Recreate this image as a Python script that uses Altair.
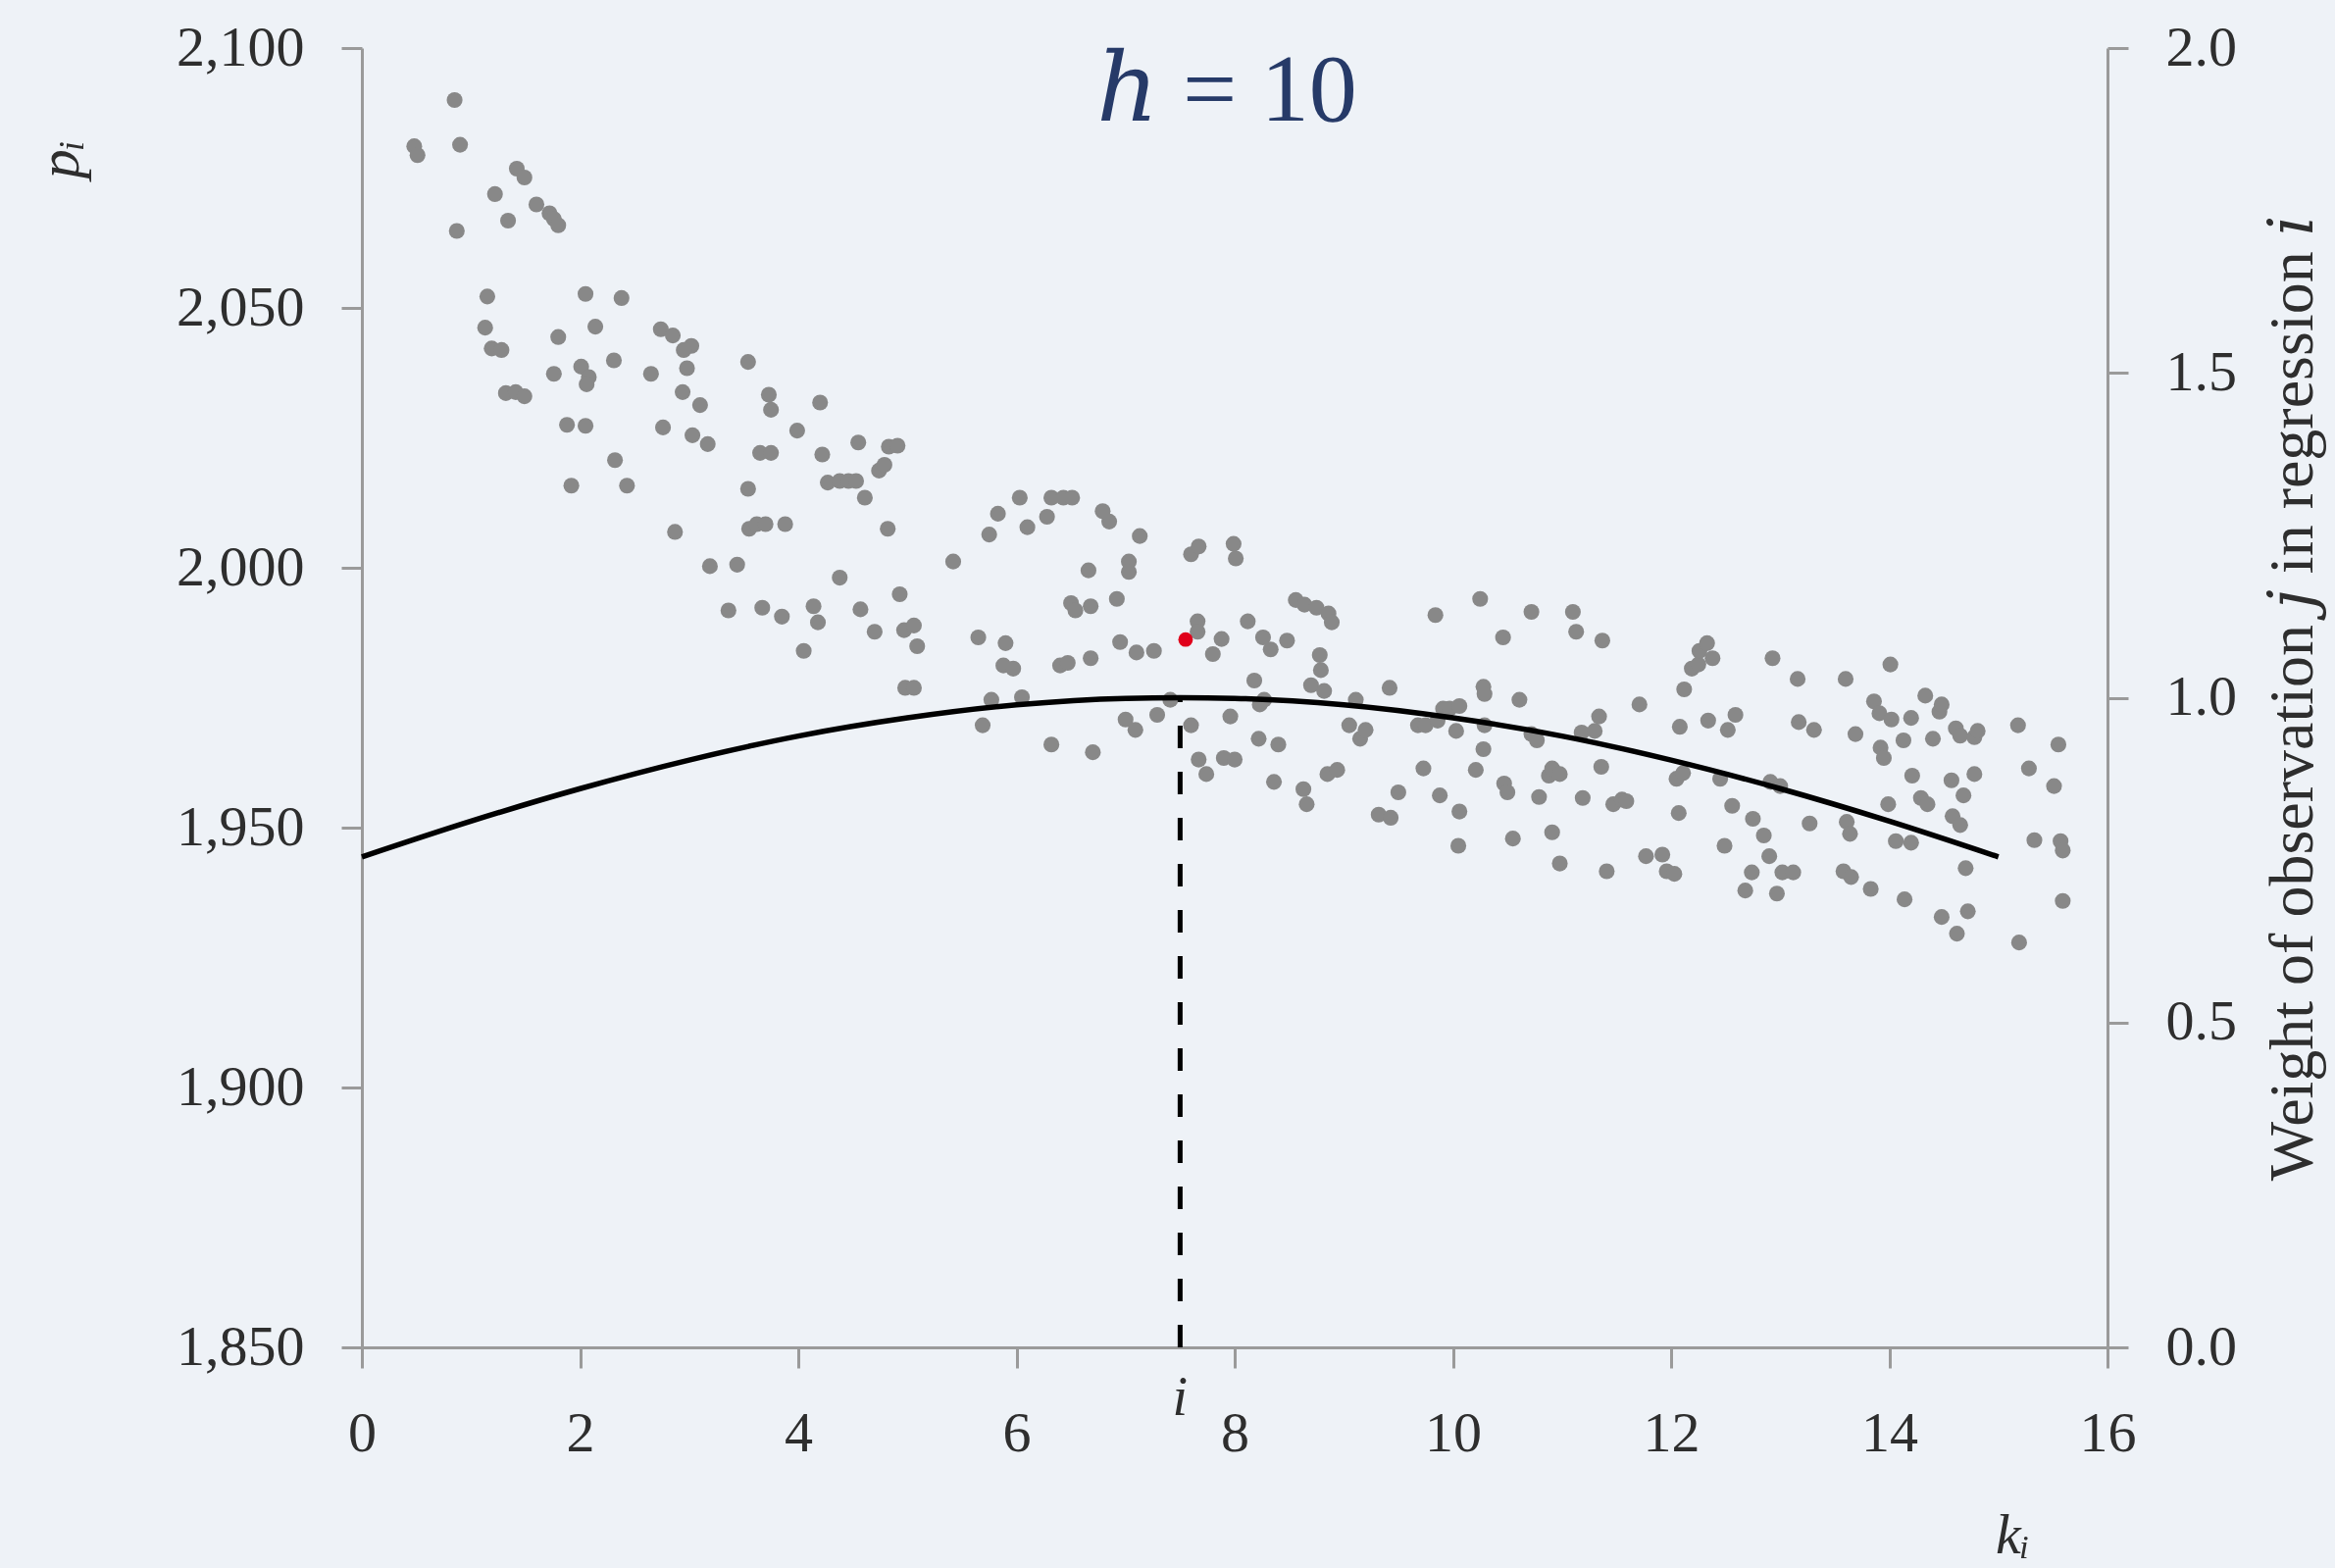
import altair as alt
import pandas as pd

# Observations (k_j, p_j)
K = [0.48, 0.51, 0.85, 0.90, 0.87, 1.22, 1.34, 1.42, 1.49, 1.60, 1.72, 1.76, 1.80,
     1.15, 1.13, 1.19, 1.28, 1.32, 1.41, 1.49, 1.80, 1.76, 1.88, 1.92, 2.05, 2.14,
     2.01, 2.08, 2.06, 2.05, 2.31, 2.32, 2.38, 2.43, 2.65, 2.74, 2.85, 2.76, 2.87,
     3.02, 2.95, 2.98, 2.94, 3.10, 3.03, 3.17, 3.19, 3.36, 3.44, 3.54, 3.54, 3.55,
     3.62, 3.70, 3.73, 3.65, 3.75, 3.67, 3.75, 3.85, 3.88, 3.99, 4.05, 4.14, 4.18,
     4.20, 4.22, 4.27, 4.38, 4.46, 4.53, 4.38, 4.55, 4.57, 4.61, 4.70, 4.74, 4.79,
     4.83, 4.91, 4.82, 4.93, 4.97, 4.98, 5.06, 5.06, 5.09,
     5.42, 5.65, 5.69, 5.77, 5.75, 5.83, 5.90, 5.88, 5.97, 6.03, 6.05, 6.10, 6.28,
     6.32, 6.43, 6.51, 6.32, 6.40, 6.47, 6.50, 6.54, 6.66, 6.68, 6.68, 6.70, 6.79,
     6.85, 6.92, 6.95, 7.00, 7.03, 7.03, 7.09, 7.13, 7.10, 7.26, 7.29, 7.41,
     7.60, 7.67, 7.66, 7.66, 7.80, 7.88, 7.60, 7.67, 7.74, 7.90, 8.00, 7.96, 7.99,
     8.01, 8.12, 8.18, 8.22, 8.23, 8.27, 8.26, 8.33, 8.36, 8.40, 8.48, 8.56, 8.64,
     8.63, 8.66, 8.70, 8.75, 8.78, 8.79, 8.82, 8.86, 8.89, 8.85, 8.94, 9.05, 9.15,
     9.11, 9.20, 9.32, 9.43, 9.42, 9.50, 9.68, 9.75, 9.73, 9.84, 9.86, 9.88, 9.91,
     9.97, 10.03, 10.06, 10.06, 10.05, 10.21, 10.25, 10.28, 10.29, 10.29, 10.28,
     10.46, 10.47, 10.50, 10.55, 10.61, 10.72, 10.72, 10.77, 10.79, 10.88, 10.91,
     10.91, 10.98, 10.98, 11.10, 11.13, 11.18, 11.19, 11.34, 11.30, 11.36, 11.37,
     11.41, 11.47, 11.55, 11.59, 11.71, 11.77, 11.92, 11.96, 12.03, 12.07, 12.05,
     12.11, 12.08, 12.12, 12.19, 12.25, 12.26, 12.33, 12.34, 12.38, 12.45, 12.49,
     12.52, 12.59, 12.56, 12.68, 12.74, 12.75, 12.85, 12.91, 12.93, 12.90, 12.97,
     13.00, 13.02, 13.12, 13.16, 13.17, 13.31, 13.27, 13.60, 13.61, 13.64, 13.58,
     13.65, 13.69, 13.83, 13.86, 13.91, 13.92, 13.95, 14.01, 14.02, 13.99, 14.06,
     14.13, 14.14, 14.20, 14.20, 14.21, 14.29, 14.35, 14.33, 14.40, 14.46, 14.48,
     14.48, 14.62, 14.61, 14.65, 14.57, 14.58, 14.68, 14.65, 14.70, 14.72, 14.78,
     14.81, 14.78, 15.19, 15.18, 15.28, 15.33, 15.51, 15.55, 15.59, 15.57, 15.59]

P = [2081.1, 2079.4, 2090.0, 2081.4, 2064.8, 2071.9, 2066.8, 2076.8, 2075.1, 2069.9,
     2068.2, 2067.1, 2065.9, 2052.2, 2046.2, 2042.2, 2041.9, 2033.6, 2033.8, 2033.0,
     2044.4, 2037.3, 2027.5, 2015.8, 2052.7, 2046.4, 2038.7, 2036.7, 2035.3, 2027.3,
     2039.9, 2020.7, 2051.9, 2015.8, 2037.3, 2045.9, 2044.7, 2027.0, 2006.9, 2042.7,
     2041.9, 2038.4, 2033.8, 2031.3, 2025.5, 2023.8, 2000.3, 1991.8, 2000.6, 2039.6,
     2015.2, 2007.5, 2008.4, 2008.4, 2033.3, 2022.1, 2022.1, 1992.3, 2030.4, 1990.6,
     2008.4, 2026.4, 1984.0, 1992.6, 1989.5, 2031.8, 2021.8, 2016.4, 2016.7, 2016.7,
     2016.7, 1998.1, 2024.1, 1992.0, 2013.5, 1987.7, 2018.7, 2019.8, 2023.3, 2023.5,
     2007.5, 1994.9, 1988.0, 1976.9, 1976.9, 1988.9, 1984.9,
     2001.2, 1986.6, 1969.7, 1974.6, 2006.4, 2010.4, 1985.5, 1981.2, 1980.6, 2013.5,
     1975.1, 2007.8, 2009.8, 2013.5, 2013.5, 2013.5, 1966.0, 1981.2, 1981.7, 1993.2,
     1991.8, 1999.5, 1992.6, 1982.6, 1964.5, 2010.9, 2008.9, 1994.0, 1985.7, 1970.8,
     2001.2, 1999.2, 1968.8, 2006.1, 1983.7, 1984.0, 1971.7, 1974.6,
     2002.6, 2004.1, 1989.7, 1987.7, 1983.4, 1986.3, 1969.7, 1963.1, 1960.3, 1963.4,
     1963.1, 1971.4, 2004.6, 2001.8, 1989.7, 1978.3, 1967.1, 1973.7, 1974.6, 1986.6,
     1984.3, 1958.8, 1966.0, 1986.0, 1993.8, 1992.9, 1957.4, 1954.5, 1977.4, 1992.3,
     1983.2, 1980.3, 1976.3, 1991.2, 1989.5, 1960.3, 1961.1, 1969.7, 1967.1, 1974.6,
     1968.8, 1952.5, 1951.9, 1976.9, 1956.8, 1969.7, 1969.7, 1961.4, 1990.9, 1970.6,
     1956.2, 1972.9, 1972.9, 1968.6, 1953.1, 1973.4, 1946.5, 1961.1, 1994.0, 1977.1,
     1975.7, 1969.7, 1965.1, 1986.6, 1958.5, 1956.8, 1947.9, 1974.6, 1991.5, 1968.0,
     1966.8, 1955.9, 1960.0, 1961.4, 1949.1, 1943.1, 1960.3, 1991.5, 1987.7, 1968.3,
     1955.7, 1971.4, 1968.6, 1961.7, 1986.0, 1941.6, 1954.5, 1955.4, 1955.1, 1973.7,
     1944.5, 1944.8, 1941.6, 1941.1, 1952.8, 1959.4, 1960.5, 1969.4, 1976.6, 1980.6,
     1981.4, 1984.0, 1985.5, 1970.6, 1982.6, 1959.4, 1946.5, 1968.8, 1971.7, 1954.2,
     1937.9, 1941.4, 1951.7, 1948.5, 1958.8, 1982.6, 1944.5, 1937.3, 1958.0, 1941.4,
     1941.4, 1978.6, 1970.3, 1968.8, 1950.8, 1978.6, 1951.1, 1948.8, 1941.6, 1940.5,
     1968.0, 1938.2, 1974.3, 1972.0, 1965.4, 1963.4, 1981.4, 1970.8, 1954.5, 1947.4,
     1966.8, 1936.2, 1971.1, 1947.1, 1960.0, 1955.7, 1954.5, 1975.4, 1967.1, 1972.3,
     1973.7, 1932.8, 1929.6, 1969.1, 1967.7, 1959.1, 1952.2, 1956.2, 1950.5, 1942.2,
     1933.9, 1967.4, 1968.6, 1960.3, 1927.9, 1969.7, 1961.4, 1947.6, 1958.0, 1966.0,
     1935.9, 1947.4, 1945.6]

# Observation i, the one the local regression is centred on
K_I = [7.55]
P_I = [1986.2]
I_POS = [7.5]

# Kernel weight of each observation j in regression i (right axis)
CURVE_K = [0, 1, 2, 3, 4, 5, 6, 7, 7.5, 8, 9, 10, 11, 12, 13, 14, 15]
CURVE_W = [0.755, 0.810, 0.860, 0.904, 0.941, 0.969, 0.989, 0.999, 1.000,
           0.999, 0.989, 0.969, 0.941, 0.904, 0.860, 0.810, 0.755]

HEADING = ["ℎ\u2005=\u200510"]

W, H = 1780, 1325
BG = "#eef2f7"
SERIF = "Liberation Serif, DejaVu Serif, serif"
AXIS_GREY = "#9a9a9a"
LABEL_COL = "#2e2e2e"

pts = pd.DataFrame({"k": K, "p": P})
focus = pd.DataFrame({"k": K_I, "p": P_I})
curve = pd.DataFrame({"k": CURVE_K, "w": CURVE_W})
guide = pd.DataFrame({"k": I_POS, "w0": [0.0], "w1": [1.0], "lab": ["i"]})
heading = pd.DataFrame({"t": HEADING})

xscale = alt.Scale(domain=[0, 16], nice=False, zero=False)
pscale = alt.Scale(domain=[1850, 2100], nice=False, zero=False)
wscale = alt.Scale(domain=[0, 2], nice=False)

xaxis = alt.Axis(values=list(range(0, 17, 2)), format="d", title="kᵢ",
                 titleFontStyle="italic", titleFont=SERIF, titleFontSize=58,
                 titleFontWeight="normal", titleColor=LABEL_COL,
                 titleX=1683, titleY=209, titleAlign="center",
                 titleBaseline="alphabetic", titleAngle=0)
paxis = alt.Axis(values=[1850, 1900, 1950, 2000, 2050, 2100], format=",.0f",
                 title="pᵢ", titleFontStyle="italic", titleFont=SERIF,
                 titleFontSize=60, titleFontWeight="normal", titleColor=LABEL_COL,
                 titleX=-308, titleY=113, titleAngle=270, titleAlign="center",
                 titleBaseline="middle")
waxis = alt.Axis(values=[0, 0.5, 1.0, 1.5, 2.0], format=".1f", orient="right",
                 title="Weight of observation 𝑗 in regression 𝑖",
                 titleFont=SERIF, titleFontSize=64, titleFontWeight="normal",
                 titleColor=LABEL_COL, titleX=189, titleY=H / 2, titleAngle=270,
                 titleAlign="center", titleBaseline="middle")

x_enc = alt.X("k:Q", scale=xscale, axis=xaxis)

scatter = alt.Chart(pts).mark_circle(size=260, color="#888888", opacity=1).encode(
    x=x_enc, y=alt.Y("p:Q", scale=pscale, axis=paxis))
red = alt.Chart(focus).mark_circle(size=220, color="#e0001b", opacity=1).encode(
    x=x_enc, y=alt.Y("p:Q", scale=pscale, axis=paxis))

kernel = alt.Chart(curve).mark_line(color="black", strokeWidth=5.5,
                                    interpolate="monotone").encode(
    x=x_enc, y=alt.Y("w:Q", scale=wscale, axis=waxis))
dashed = alt.Chart(guide).mark_rule(color="black", strokeWidth=5,
                                    strokeDash=[23, 24]).encode(
    x=x_enc, y=alt.Y("w0:Q", scale=wscale, axis=waxis), y2="w1:Q")
i_label = alt.Chart(guide).mark_text(font=SERIF, fontSize=56, fontStyle="italic",
                                     color=LABEL_COL, baseline="alphabetic",
                                     align="center").encode(
    x=x_enc, y=alt.value(H + 69), text="lab:N")

# Bandwidth heading, set inside the top of the plot
head = alt.Chart(heading).mark_text(font=SERIF, fontSize=98, color="#263a68",
                                    baseline="alphabetic", align="center").encode(
    x=alt.value(882), y=alt.value(74), text="t:N")

left = alt.layer(scatter, red)
right = alt.layer(kernel, dashed, i_label, head)

chart = alt.layer(left, right).resolve_scale(y="independent").properties(
    width=W, height=H,
    padding={"left": 369, "top": 49, "right": 232, "bottom": 225},
    autosize=alt.AutoSizeParams(type="none"),
    background=BG,
).configure_view(stroke=None).configure_axis(
    grid=False, domainColor=AXIS_GREY, domainWidth=3, tickColor=AXIS_GREY,
    tickWidth=3, tickSize=21, labelFont=SERIF, labelFontSize=58,
    labelColor=LABEL_COL, labelPadding=38, labelFlush=False, labelLimit=400,
)

chart.save("out.html", embed_options={"renderer": "svg", "actions": False})
